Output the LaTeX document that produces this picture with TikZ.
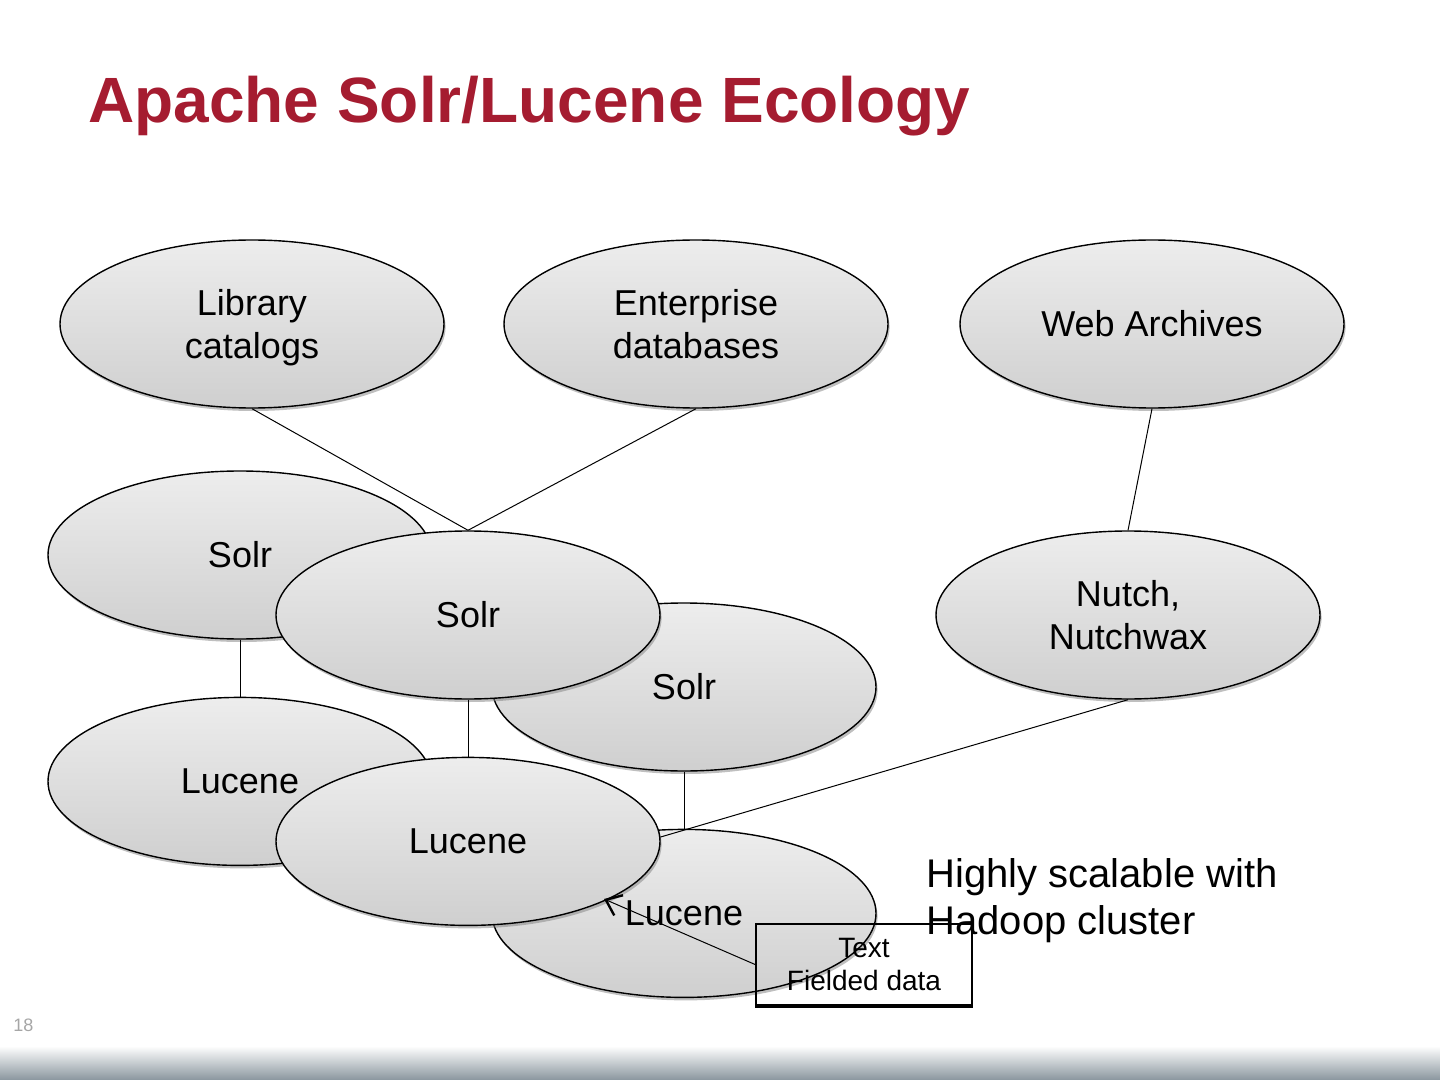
\documentclass[tikz,border=0pt]{standalone}
\usepackage{fontspec}
\setmainfont{Liberation Sans}
\usetikzlibrary{arrows.meta,positioning,shapes.geometric,shadows}
\definecolor{Crimson}{HTML}{A51C30}
\definecolor{BlobTop}{HTML}{EDEDED}
\definecolor{BlobBot}{HTML}{CFCFCF}
\definecolor{BarGray}{HTML}{8A969E}
\definecolor{PageNo}{HTML}{A6A6A6}
\tikzset{
  blob/.style={ellipse,draw=black,line width=0.7pt,top color=BlobTop,bottom color=BlobBot,minimum width=192pt,minimum height=84pt,inner sep=0pt,align=center,font=\fontsize{18}{21.5}\selectfont,drop shadow={shadow xshift=0.8pt,shadow yshift=-1.5pt,opacity=.5}},
  conn/.style={draw=black,line width=0.5pt},
  note/.style={draw=black,line width=0.9pt,minimum width=108pt,minimum height=40.5pt,align=center,inner sep=0pt,font=\fontsize{14}{16.5}\selectfont},
  lbl/.style={inner sep=0pt,align=left},
}
\begin{document}
\begin{tikzpicture}[x=0.5pt,y=-0.5pt]
\useasboundingbox (0,0) rectangle (1440,1080);
\fill[white] (0,0) rectangle (1440,1080);
\shade[top color=white,bottom color=BarGray] (0,1046) rectangle (1440,1080);
\node[lbl,anchor=base west,font=\fontsize{32}{38}\selectfont\bfseries,text=Crimson] (title) at (88,123) {Apache Solr/Lucene Ecology};
\node[lbl,anchor=base west,font=\fontsize{9}{10}\selectfont,text=PageNo] (pageno) at (13,1031) {18};

% data sources
\node[blob] (lib) at (252,324) {Library\\\raisebox{0pt}[\height][0pt]{catalogs}};
\node[blob] (ent) at (696,324) {Enterprise\\databases};
\node[blob] (web) at (1152,324) {Web Archives};
% back stacks
\node[blob] (solrA) at (240,555) {Solr};
\node[blob,below=28.5pt of solrA] (lucA) {Lucene};
\node[blob] (solrC) at (684,687) {Solr};
\node[blob,below=28.5pt of solrC] (lucC) {Lucene};
\node[blob] (nutch) at (1128,615) {Nutch,\\Nutchwax};
\coordinate (nutchend) at (630,846);
\draw[conn] (solrA) -- (lucA);
\draw[conn] (solrC) -- (lucC);
\draw[conn] (web.south) -- (nutch.north);
\draw[conn] (nutch.south) -- (nutchend);
% front stack
\node[blob] (solrB) at (468,615) {Solr};
\node[blob,below=28.5pt of solrB] (lucB) {Lucene};
\draw[conn] (lib.south) -- (solrB.north);
\draw[conn] (ent.south) -- (solrB.north);
\draw[conn] (solrB) -- (lucB);

\node[note] (fielded) at (864,964.5) {Text\\Fielded data};
\draw[line width=1.6pt] (fielded.south west) -- (fielded.south east);
\coordinate (lucpoint) at (604,899);
\draw[conn,-{Straight Barb[length=7pt,width=11pt,line width=1.2pt]}] (fielded.west) -- (lucpoint);
\node[lbl,anchor=north west,font=\fontsize{20}{23.5}\selectfont] (hadoop) at (926,858.5) {Highly scalable with\\Hadoop cluster};
\end{tikzpicture}
\end{document}
